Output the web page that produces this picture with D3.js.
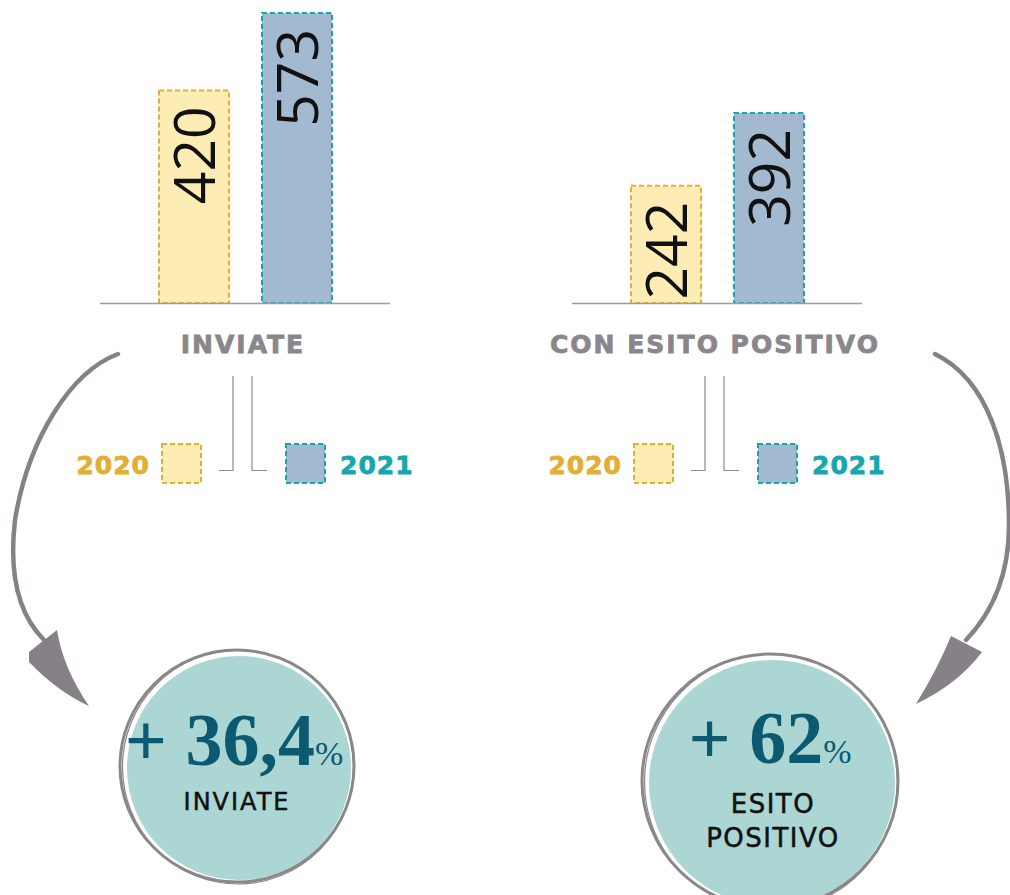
<!DOCTYPE html>
<html>
<head>
<meta charset="utf-8">
<script src="https://cdn.jsdelivr.net/npm/d3@7"></script>
<style>
  html, body { margin: 0; padding: 0; background: #fff; }
  svg { display: block; }
</style>
</head>
<body>
<svg id="chart"></svg>
<script>
// data
const categories = ["INVIATE", "CON ESITO POSITIVO"];
const years = ["2020", "2021"];
const values2020 = [420, 242];
const values2021 = [573, 392];
const changeLabels = ["+ 36,4", "+ 62"];
const circleLabels = [["INVIATE"], ["ESITO", "POSITIVO"]];

// dims
const width = 1010, height = 895;
const baseY = 303;
const panelX = [100, 572];
const panelW = 290;
const maxBarH = [290, 190];

const fill = { "2020": "#fdedb5", "2021": "#a3b9cf" };
const stroke = { "2020": "#e2ae35", "2021": "#16a7ae" };
const grey = "#8a878c";
const boldFont = "'DejaVu Sans', sans-serif";

const svg = d3.select("#chart")
  .attr("width", width)
  .attr("height", height);

categories.forEach((cat, i) => {
  const x0 = panelX[i];
  const g = svg.append("g");
  const rows = years.map((y, j) => ({ year: y, value: j === 0 ? values2020[i] : values2021[i] }));

  const x = d3.scaleBand().domain(years).range([x0 + 59, x0 + 232]).paddingInner(0.32).paddingOuter(0);
  const yScale = d3.scaleLinear().domain([0, d3.max(rows, d => d.value)]).range([baseY, baseY - maxBarH[i]]);

  // bars
  g.selectAll("rect.bar")
    .data(rows)
    .join("rect")
    .attr("class", "bar")
    .attr("x", d => x(d.year))
    .attr("y", d => yScale(d.value))
    .attr("width", x.bandwidth())
    .attr("height", d => baseY - yScale(d.value))
    .attr("fill", d => fill[d.year])
    .attr("stroke", d => stroke[d.year])
    .attr("stroke-width", 2)
    .attr("stroke-dasharray", "5,3");

  // value labels (rotated)
  g.selectAll("text.val")
    .data(rows)
    .join("text")
    .attr("class", "val")
    .attr("transform", d => `translate(${x(d.year) + x.bandwidth() / 2 + 21},${yScale(d.value) + 16}) rotate(-90)`)
    .attr("text-anchor", "end")
    .style("font-family", "'Open Sans', sans-serif")
    .style("font-weight", 400)
    .style("font-size", "57px")
    .attr("fill", "#111")
    .text(d => d.value);

  // baseline
  g.append("line")
    .attr("x1", x0).attr("x2", x0 + panelW)
    .attr("y1", baseY + 0.5).attr("y2", baseY + 0.5)
    .attr("stroke", "#9d9b9e")
    .attr("stroke-width", 1.5);

  // category label
  g.append("text")
    .attr("x", x0 + panelW / 2 - 2)
    .attr("y", 353)
    .attr("text-anchor", "middle")
    .style("font-family", boldFont)
    .style("font-weight", 700)
    .style("font-size", "25px")
    .style("letter-spacing", "2px")
    .style("stroke", grey)
    .style("stroke-width", 0.8)
    .attr("fill", grey)
    .text(cat);

  // legend connectors
  const cx = x0 + 133;
  g.append("path")
    .attr("d", `M${cx},376 V470.5 H${cx - 14}`)
    .attr("fill", "none").attr("stroke", "#8d8b8e").attr("stroke-width", 1.2);
  g.append("path")
    .attr("d", `M${cx + 19},376 V470.5 H${cx + 34}`)
    .attr("fill", "none").attr("stroke", "#8d8b8e").attr("stroke-width", 1.2);

  // legend boxes
  const legendX = { "2020": x0 + 62, "2021": x0 + 186 };
  g.selectAll("rect.leg")
    .data(years)
    .join("rect")
    .attr("class", "leg")
    .attr("x", d => legendX[d])
    .attr("y", 444)
    .attr("width", 39)
    .attr("height", 39)
    .attr("fill", d => fill[d])
    .attr("stroke", d => stroke[d])
    .attr("stroke-width", 2)
    .attr("stroke-dasharray", "5,3");

  g.selectAll("text.leg")
    .data(years)
    .join("text")
    .attr("class", "leg")
    .attr("x", d => d === "2020" ? legendX[d] - 12 : legendX[d] + 54)
    .attr("y", 474)
    .attr("text-anchor", d => d === "2020" ? "end" : "start")
    .style("font-family", boldFont)
    .style("font-weight", 700)
    .style("font-size", "25px")
    .style("letter-spacing", "1px")
    .style("stroke", d => stroke[d])
    .style("stroke-width", 0.8)
    .attr("fill", d => stroke[d])
    .text(d => d);
});

// arrows
const arrows = [
  {
    shaft: "M118,354 C70,372 28,440 15,520 C8,580 22,618 44,640",
    head: "M29,652 L57,630 Q63,668 89,706 Q58,692 29,662 Z"
  },
  {
    shaft: "M935,354 C988,380 1009,450 1009,525 C1009,580 990,615 966,640",
    head: "M951,636 L982,652 Q958,684 916,704 Q938,668 951,636 Z"
  }
];
arrows.forEach(a => {
  svg.append("path").attr("d", a.shaft)
    .attr("fill", "none").attr("stroke", "#858187")
    .attr("stroke-width", 4.5).attr("stroke-linecap", "round");
  svg.append("path").attr("d", a.head).attr("fill", "#858187");
});

// percentage circles
const circles = [
  { cx: 237, cy: 766, r: 117 },
  { cx: 770, cy: 781, r: 128 }
];
circles.forEach((c, i) => {
  const g = svg.append("g");
  g.append("circle")
    .attr("cx", c.cx + 2).attr("cy", c.cy + 2).attr("r", c.r - 5)
    .attr("fill", "#abd6d3");
  g.append("ellipse")
    .attr("cx", c.cx).attr("cy", c.cy).attr("rx", c.r).attr("ry", c.r - 1)
    .attr("fill", "none").attr("stroke", "#8a878a").attr("stroke-width", 3);
  g.append("ellipse")
    .attr("cx", c.cx + 1).attr("cy", c.cy + 1).attr("rx", c.r - 1.5).attr("ry", c.r)
    .attr("fill", "none").attr("stroke", "#8a878a").attr("stroke-width", 1.2);

  const t = g.append("text")
    .attr("x", c.cx + (i === 0 ? -3 : 0))
    .attr("y", i === 0 ? 765 : 763)
    .attr("text-anchor", "middle")
    .style("font-family", "'Liberation Serif', 'Times New Roman', serif")
    .attr("fill", "#0b5a72");
  t.append("tspan")
    .style("font-weight", 700)
    .style("font-size", "74px")
    .text(changeLabels[i]);
  t.append("tspan")
    .style("font-weight", 400)
    .style("font-size", "34px")
    .text("%");

  circleLabels[i].forEach((line, k) => {
    g.append("text")
      .attr("x", c.cx + (i === 0 ? 0 : 3))
      .attr("y", (i === 0 ? 810 : 813) + k * 34)
      .attr("text-anchor", "middle")
      .style("font-family", "'DejaVu Sans', sans-serif")
      .style("font-weight", 400)
      .style("font-size", i === 0 ? "24px" : "26px")
      .style("letter-spacing", i === 0 ? "2px" : "1.5px")
      .style("stroke", "#111")
      .style("stroke-width", 0.5)
      .attr("fill", "#111")
      .text(line);
  });
});
</script>
</body>
</html>
